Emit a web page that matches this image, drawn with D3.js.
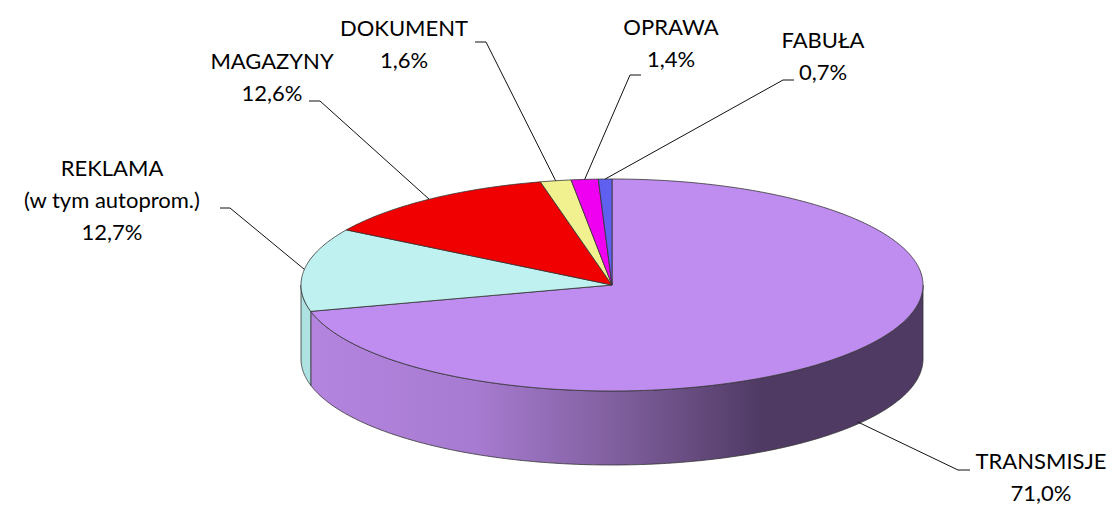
<!DOCTYPE html>
<html>
<head>
<meta charset="utf-8">
<script src="https://cdn.jsdelivr.net/npm/d3@7"></script>
<style>
  html, body { margin: 0; padding: 0; background: #fff; }
  text { font-family: Lato, "Open Sans", sans-serif; font-size: 22px; fill: #000; }
</style>
</head>
<body>
<svg id="chart" width="1112" height="507"></svg>
<script>
// data (clockwise from 12 o'clock)
var categories = ["TRANSMISJE", "REKLAMA", "MAGAZYNY", "DOKUMENT", "OPRAWA", "FABUŁA"];
var sublabels  = ["", "(w tym autoprom.)", "", "", "", ""];
var shares     = [71.0, 12.7, 12.6, 1.6, 1.4, 0.7];

// look
var top_colors  = ["#bf8df0", "#c0f1f1", "#f00000", "#f1f190", "#f000f0", "#6060f0"];
var side_colors = ["url(#side_grad)", "#aee2e2", "#b00000", "#b0b060", "#b000b0", "#4040b0"];

// label layout: text centre x, first baseline y, elbow x, elbow y, stub length
var label_layout = [
    [1041, 469, 958, 470, 12],
    [112, 176, 230, 208, -10],
    [272, 69, 320, 101, -11],
    [404, 36, 486, 42, -11],
    [671, 35, 630, 75, 11],
    [823, 48, 783, 80, 11]
];

var cx = 612, cy = 285, rx = 311, ry = 106, depth = 74;
var line_h = 32;

var svg = d3.select("#chart");

var defs = svg.append("defs");
var grad = defs.append("linearGradient")
    .attr("id", "side_grad")
    .attr("gradientUnits", "userSpaceOnUse")
    .attr("x1", cx - rx).attr("y1", 0)
    .attr("x2", cx + rx).attr("y2", 0);
grad.append("stop").attr("offset", "0%").attr("stop-color", "#b585e0");
grad.append("stop").attr("offset", "28%").attr("stop-color", "#a77bd1");
grad.append("stop").attr("offset", "50%").attr("stop-color", "#81609f");
grad.append("stop").attr("offset", "74%").attr("stop-color", "#4f3a64");
grad.append("stop").attr("offset", "100%").attr("stop-color", "#4f3a64");

var pie = d3.pie().sort(null).value(function(d) { return d; });
var arcs = pie(shares);

function pt(a, dy)
{
    return [cx + rx * Math.sin(a), cy - ry * Math.cos(a) + (dy || 0)];
}

function arc_points(a0, a1, dy)
{
    var result = [];
    var n = Math.max(2, Math.ceil((a1 - a0) / 0.01));
    for(var i = 0; i <= n; i++)
    {
        result.push(pt(a0 + (a1 - a0) * i / n, dy));
    }
    return result;
}

var line = d3.line();

// side walls (only the front half is visible)
var side_g = svg.append("g");
arcs.forEach(function(d, i)
{
    var a0 = Math.max(d.startAngle, Math.PI / 2);
    var a1 = Math.min(d.endAngle, Math.PI * 3 / 2);
    if(a1 <= a0) return;
    var pts = arc_points(a0, a1, 0).concat(arc_points(a0, a1, depth).reverse());
    side_g.append("path")
        .attr("d", line(pts) + "Z")
        .attr("fill", side_colors[i])
        .attr("stroke", "#333")
        .attr("stroke-width", 0.8)
        .attr("stroke-linejoin", "round");
});

// top faces
var top_g = svg.append("g");
arcs.forEach(function(d, i)
{
    var pts = [[cx, cy]].concat(arc_points(d.startAngle, d.endAngle, 0));
    top_g.append("path")
        .attr("d", line(pts) + "Z")
        .attr("fill", top_colors[i])
        .attr("stroke", "#333")
        .attr("stroke-width", 0.8)
        .attr("stroke-linejoin", "round");
});

// leader lines and labels
var fmt = d3.format(".1f");
var lab_g = svg.append("g");
arcs.forEach(function(d, i)
{
    var mid = (d.startAngle + d.endAngle) / 2;
    var front = Math.cos(mid) < 0;
    var p = pt(mid, front ? depth - 2 : 0);
    var lay = label_layout[i];
    lab_g.append("path")
        .attr("d", line([p, [lay[2], lay[3]], [lay[2] + lay[4], lay[3]]]))
        .attr("fill", "none")
        .attr("stroke", "#111")
        .attr("stroke-width", 1);

    var lines = [categories[i]];
    if(sublabels[i] != "") lines.push(sublabels[i]);
    lines.push(fmt(shares[i]).replace(".", ",") + "%");

    var t = lab_g.append("text")
        .attr("text-anchor", "middle");
    lines.forEach(function(s, k)
    {
        t.append("tspan")
            .attr("x", lay[0])
            .attr("y", lay[1] + k * line_h)
            .text(s);
    });
});
</script>
</body>
</html>
